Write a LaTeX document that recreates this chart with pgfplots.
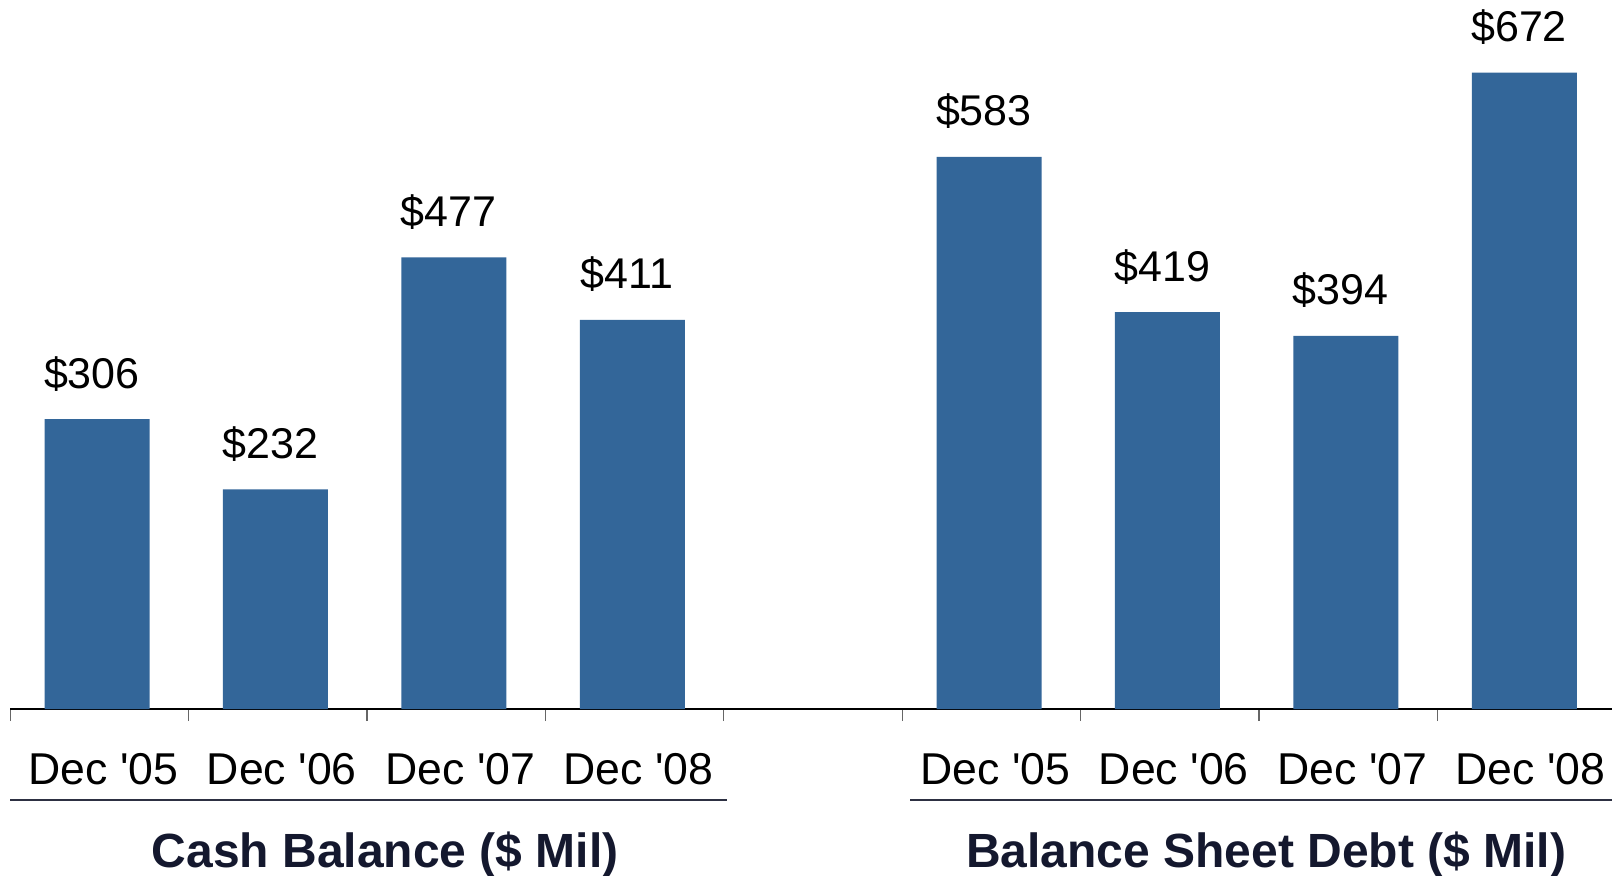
\documentclass[border=0pt]{standalone}
\usepackage{pgfplots}
\pgfplotsset{compat=1.18}
\usepackage{fontspec}
\setmainfont{Liberation Sans}
\definecolor{barblue}{RGB}{51,102,153}
\definecolor{titlenavy}{RGB}{20,24,46}
\definecolor{rulenavy}{RGB}{45,48,66}
\newcommand{\lbl}[1]{Dec \textquotesingle #1}
\begin{document}
\begin{tikzpicture}
\path[use as bounding box] (-5.15pt,-83pt) rectangle (800.85pt,354.5pt);
\begin{axis}[
  at={(0,0)}, anchor=south west,
  scale only axis, width=801pt, height=331.45pt,
  xmin=-0.5, xmax=8.48, ymin=0, ymax=700,
  enlargelimits=false, clip=false,
  axis y line=none, axis x line*=bottom,
  x axis line style={black, line width=0.9pt},
  ybar, bar width=52.5pt, bar shift=-1.2pt,
  xtick={0,1,2,3,5,6,7,8},
  xticklabels={\lbl{05},\lbl{06},\lbl{07},\lbl{08},\lbl{05},\lbl{06},\lbl{07},\lbl{08}},
  major tick length=0pt,
  minor xtick={-0.5,0.5,1.5,2.5,3.5,4.5,5.5,6.5,7.5},
  minor tick length=6pt,
  tick align=outside,
  minor tick style={gray!80!black, line width=0.6pt},
  xticklabel style={font=\fontsize{22.3}{26}\selectfont, anchor=base, yshift=-37.5pt, xshift=2pt},
  nodes near coords={\$\pgfmathprintnumber[assume math mode=true]{\pgfplotspointmeta}},
  every node near coord/.append style={font=\fontsize{21.5}{25}\selectfont, anchor=base, yshift=15.5pt, xshift=-2.6pt, black},
]
\addplot[fill=barblue, draw=none] coordinates {(0,306) (1,232) (2,477) (3,411) (5,583) (6,419) (7,394) (8,672)};
\end{axis}
\draw[rulenavy, line width=1.25pt] (0pt,-45.5pt) -- (358.4pt,-45.5pt);
\draw[rulenavy, line width=1.25pt] (449.9pt,-45.5pt) -- (801pt,-45.5pt);
\node[anchor=base, text=titlenavy, font=\fontsize{24}{28}\selectfont\bfseries] at (187.4pt,-79pt) {Cash Balance (\$ Mil)};
\node[anchor=base, text=titlenavy, font=\fontsize{24}{28}\selectfont\bfseries] at (627.9pt,-79pt) {Balance Sheet Debt (\$ Mil)};
\end{tikzpicture}
\end{document}
